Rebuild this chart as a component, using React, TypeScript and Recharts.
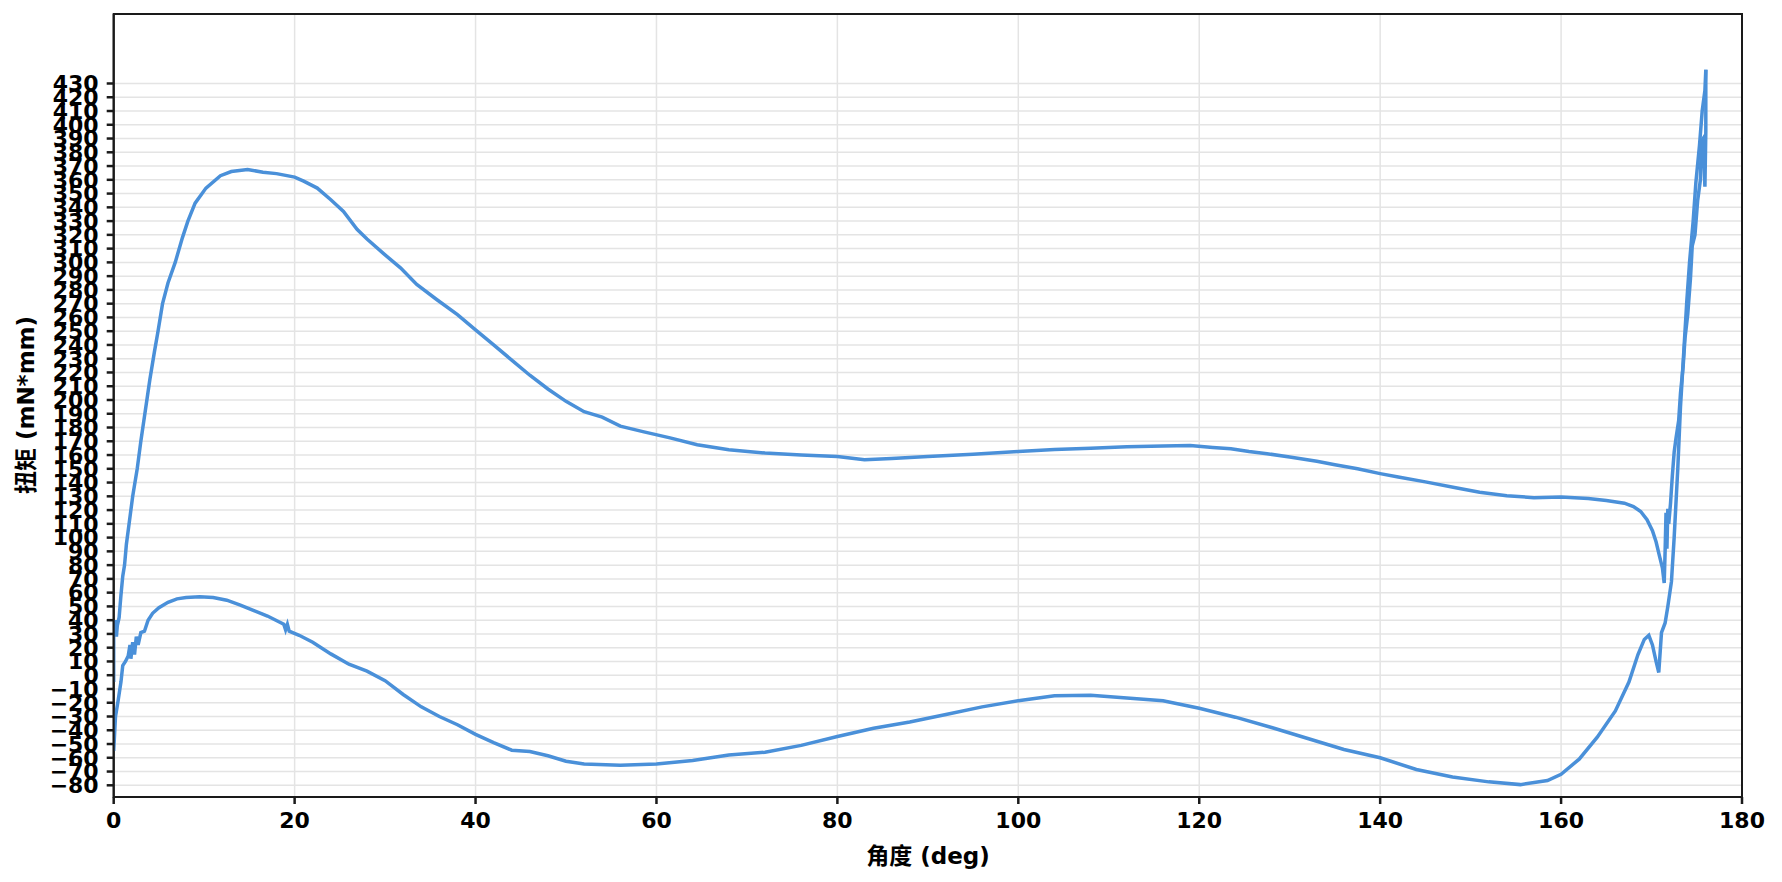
import React from "react";
import {
  LineChart,
  Line,
  XAxis,
  YAxis,
  CartesianGrid,
  ReferenceArea,
} from "recharts";

// 加载段 (角度递增)
const loadAngle = [
  0, 0.2, 0.5, 0.8, 1.0, 1.3, 1.6, 1.8, 1.9, 2.1, 2.3, 2.5, 2.7, 3.0, 3.4, 3.8,
  4.3, 5.0, 6.0, 7.0, 8.0, 9.5, 11.0, 12.5, 14.0, 15.5, 17.0, 18.2, 18.8, 19.0,
  19.2, 19.4, 20.5, 22.0, 24.0, 26.0, 28.0, 30.0, 32.0, 34.0, 36.0, 38.0, 40.0,
  42.0, 44.0, 46.0, 48.0, 50.0, 52.0, 56.0, 60.0, 64.0, 68.0, 72.0, 76.0, 80.0,
  84.0, 88.0, 92.0, 96.0, 100.0, 104.0, 108.0, 112.0, 116.0, 120.0, 124.0,
  128.0, 132.0, 136.0, 140.0, 144.0, 148.0, 152.0, 155.5, 158.5, 160.0, 162.0,
  164.0, 166.0, 167.5, 168.5, 169.2, 169.7, 170.1, 170.5, 170.8, 171.1, 171.5,
  171.8, 172.2, 172.5, 172.7, 172.9, 173.2, 173.5, 173.9, 174.2, 174.6, 174.9,
  175.3, 175.6, 175.9, 176.0,
];
const loadTorque = [
  -55, -30, -18, -5, 7, 10, 14, 22, 12, 24, 15, 28, 22, 31, 32, 40, 45, 49, 53,
  55.5, 56.5, 57, 56.5, 54.5, 51, 47, 43, 39, 37, 33, 37, 32, 29, 24, 15.5, 8,
  3, -4, -14, -23, -30, -36, -43, -49, -54.5, -55.5, -58.5, -62.5, -64.5,
  -65.5, -64.5, -62, -58, -56, -51, -44.5, -38.5, -34, -28.5, -23, -18.5, -15,
  -14.5, -16.5, -18.5, -24, -30.5, -38, -46, -54, -60, -68.5, -74, -77.5,
  -79.5, -76.5, -72, -61, -45, -26, -5, 15, 26, 29, 22, 10, 2, 31, 38, 50, 68,
  100, 125, 150, 195, 228, 272, 300, 330, 358, 385, 410, 425, 440,
];

// 卸载段 (角度递减)
const unloadAngle = [
  176.0, 176.0, 175.9, 175.7, 175.5, 175.4, 175.1, 174.8, 174.5, 174.3, 174.0,
  173.7, 173.5, 173.2, 173.0, 172.7, 172.5, 172.3, 172.1, 171.9, 171.8, 171.7,
  171.6, 171.5, 171.4, 171.2, 170.9, 170.5, 170.1, 169.5, 168.8, 168.0, 167.0,
  165.0, 163.0, 160.0, 157.0, 154.0, 151.0, 148.5, 145.0, 142.0, 140.0, 137.5,
  135.0, 133.0, 130.0, 127.5, 125.5, 123.5, 121.5, 119.0, 116.0, 112.0, 108.0,
  104.0, 100.0, 95.0, 90.0, 86.0, 83.0, 80.0, 76.0, 72.0, 68.0, 64.5, 61.5,
  58.5, 56.0, 54.0, 52.0, 50.0, 48.0, 46.0, 44.0, 42.0, 40.0, 38.0, 35.7, 33.5,
  31.7, 29.9, 28.0, 26.9, 25.4, 24.0, 22.5, 21.0, 20.0, 18.0, 16.5, 14.8, 13.0,
  11.8, 10.2, 9.0, 8.2, 7.6, 6.8, 6.0, 5.4, 4.9, 4.5, 4.0, 3.4, 3.0, 2.6, 2.1,
  1.9, 1.6, 1.4, 1.2, 1.0, 0.8, 0.6, 0.4, 0.3, 0.2, 0.1, 0.0, 0.0,
];
const unloadTorque = [
  440, 395, 355, 390, 388, 360, 345, 320, 312, 288, 262, 245, 225, 205, 185,
  172, 162, 145, 125, 110, 121, 92, 118, 90, 67, 78, 86, 97, 105, 113, 119,
  122.5, 125, 127, 128.5, 129.5, 129, 130.5, 133, 136, 140.5, 144, 146.5, 150,
  153, 155.5, 158.5, 161, 162.5, 164.5, 165.5, 167, 166.5, 166, 165, 164,
  162.5, 160.5, 159, 157.5, 156.5, 159, 160, 161.5, 163.8, 167.5, 172.5, 177,
  181, 187.5, 191.5, 199, 208, 218, 229, 240, 251, 262, 273, 284, 296, 306,
  317, 324, 337, 345.5, 354, 359, 362, 364.5, 365.5, 367.5, 366, 363, 354, 343,
  330, 318, 300, 285, 270, 250, 235, 215, 188, 170, 150, 130, 120, 105, 95, 80,
  72, 58, 42, 36, 28, 40, 30, 38, -5,
];

const xTicks = [0, 20, 40, 60, 80, 100, 120, 140, 160, 180];
const yTicks = [
  -80, -70, -60, -50, -40, -30, -20, -10, 0, 10, 20, 30, 40, 50, 60, 70, 80,
  90, 100, 110, 120, 130, 140, 150, 160, 170, 180, 190, 200, 210, 220, 230,
  240, 250, 260, 270, 280, 290, 300, 310, 320, 330, 340, 350, 360, 370, 380,
  390, 400, 410, 420, 430,
];

const loadData = loadAngle.map((a, i) => ({ angle: a, torque: loadTorque[i] }));
const unloadData = unloadAngle.map((a, i) => ({
  angle: a,
  torque: unloadTorque[i],
}));

const FONT = "'DejaVu Sans', 'Noto Sans CJK SC', sans-serif";
const LINE = "#4a90d9";
const INK = "#1a1a1a";

const tickStyle = { fill: "#000", fontSize: 22, fontWeight: 700, fontFamily: FONT };

export default function App() {
  return (
    <div
      style={{
        position: "absolute",
        left: 0,
        top: 0,
        width: 1782,
        height: 882,
        background: "#fff",
      }}
    >
      <LineChart
        width={1782}
        height={882}
        margin={{ top: 14, right: 40, bottom: 0, left: 0 }}
      >
        <CartesianGrid stroke="#e4e4e4" strokeWidth={1.5} />
        <XAxis
          dataKey="angle"
          type="number"
          domain={[0, 180]}
          ticks={xTicks}
          allowDataOverflow
          height={85}
          tick={tickStyle}
          tickSize={7}
          tickMargin={8}
          tickLine={{ stroke: INK, strokeWidth: 2.5 }}
          axisLine={{ stroke: INK, strokeWidth: 2 }}
          label={{
            content: () => (
              <text
                x={928}
                y={856}
                textAnchor="middle"
                dominantBaseline="central"
                fontSize={23}
                fontWeight={700}
                fontFamily={FONT}
                fill="#000"
              >
                角度 (deg)
              </text>
            ),
          }}
        />
        <YAxis
          dataKey="torque"
          type="number"
          domain={[-88.5, 480.5]}
          ticks={yTicks}
          interval={0}
          allowDataOverflow
          width={113.7}
          tick={tickStyle}
          tickSize={7}
          tickMargin={8}
          tickFormatter={(v: number) => String(v).replace("-", "\u2212")}
          tickLine={{ stroke: INK, strokeWidth: 2.5 }}
          axisLine={{ stroke: INK, strokeWidth: 2 }}
          label={{
            content: () => (
              <text
                x={26}
                y={405}
                transform="rotate(-90 26 405)"
                textAnchor="middle"
                dominantBaseline="central"
                fontSize={23}
                fontWeight={700}
                fontFamily={FONT}
                fill="#000"
              >
                扭矩 (mN*mm)
              </text>
            ),
          }}
        />
        <ReferenceArea
          x1={0}
          x2={180}
          y1={-88.5}
          y2={480.5}
          fill="none"
          stroke={INK}
          strokeWidth={2}
        />
        <Line
          data={loadData}
          dataKey="torque"
          type="linear"
          stroke={LINE}
          strokeWidth={3.5}
          dot={false}
          isAnimationActive={false}
        />
        <Line
          data={unloadData}
          dataKey="torque"
          type="linear"
          stroke={LINE}
          strokeWidth={3.5}
          dot={false}
          isAnimationActive={false}
        />
      </LineChart>
    </div>
  );
}
